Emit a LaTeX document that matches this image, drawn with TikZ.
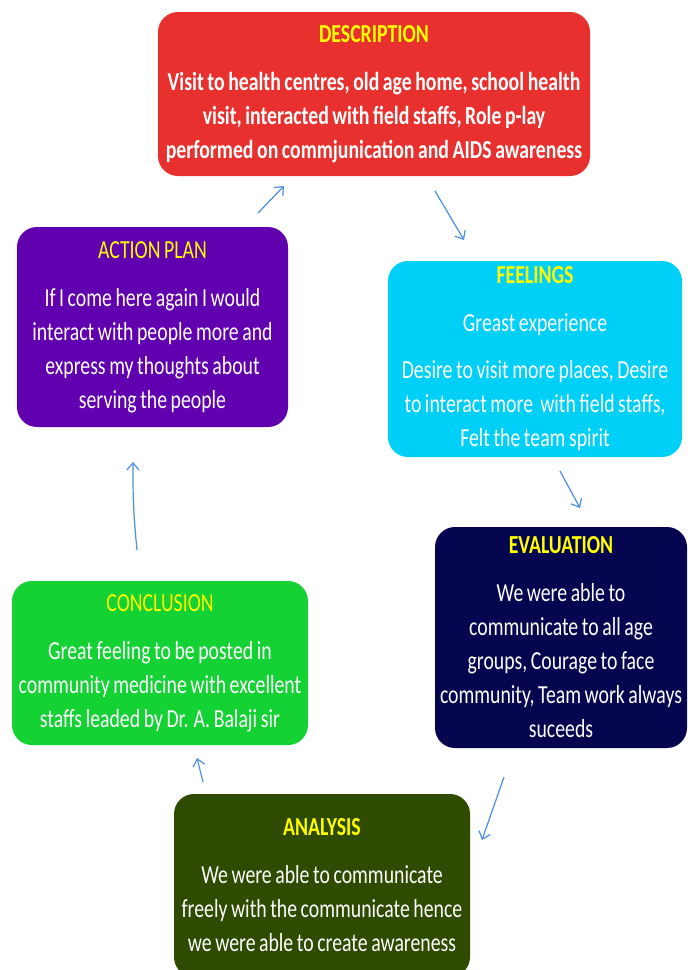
\documentclass[tikz,border=0pt]{standalone}
\usepackage{fontspec}
\usetikzlibrary{arrows.meta}
\newfontfamily\cf[FakeStretch=0.76,WordSpace=0.8]{Carlito}
\definecolor{cred}{HTML}{E8312E}
\definecolor{cpurple}{HTML}{6000AE}
\definecolor{ccyan}{HTML}{00CFF7}
\definecolor{cnavy}{HTML}{050550}
\definecolor{cgreen}{HTML}{14D134}
\definecolor{colive}{HTML}{2E4B00}
\definecolor{cyel}{HTML}{FFFF00}
\definecolor{carrow}{HTML}{4A8EDC}
\tikzset{
  box/.style={rounded corners=20pt, inner sep=0pt, align=center, text=white,
    font=\cf\fontsize{26}{34}\selectfont},
  arr/.style={draw=carrow, line width=1.2pt, -{Straight Barb[length=7pt,width=12pt]}},
}
\newcommand{\ttl}[1]{{\color{cyel}#1}}
\begin{document}
\begin{tikzpicture}[x=1pt,y=-1pt]
\useasboundingbox (0,0) rectangle (689,970);
\clip (0,0) rectangle (689,970);
\node[box, fill=cred, minimum width=432pt, minimum height=164pt, font=\cf\fontsize{26}{34}\selectfont\bfseries] (desc) at (374,94)
  {\ttl{DESCRIPTION}\\[14pt]Visit to health centres, old age home, school health\\visit, interacted with field staffs, Role p-lay\\performed on commjunication and AIDS awareness};
\node[box, fill=cpurple, minimum width=271pt, minimum height=200pt] (ap) at (152.5,327)
  {\ttl{ACTION PLAN}\\[14pt]If I come here again I would\\interact with people more and\\express my thoughts about\\serving the people};
\node[box, fill=ccyan, minimum width=294pt, minimum height=196pt] (feel) at (535,359)
  {\textbf{\ttl{FEELINGS}}\\[14pt]Greast experience\\[13pt]Desire to visit more places, Desire\\to interact more\ \ with field staffs,\\Felt the team spirit};
\node[box, fill=cnavy, minimum width=252pt, minimum height=221pt] (eval) at (561,637.5)
  {\textbf{\ttl{EVALUATION}}\\[14pt]We were able to\\communicate to all age\\groups, Courage to face\\community, Team work always\\suceeds};
\node[box, fill=cgreen, minimum width=296pt, minimum height=164pt] (conc) at (160,663)
  {\ttl{CONCLUSION}\\[14pt]Great feeling to be posted in\\community medicine with excellent\\staffs leaded by Dr. A. Balaji sir};
\node[box, fill=colive, minimum width=296pt, minimum height=183pt] (ana) at (322,885.5)
  {\textbf{\ttl{ANALYSIS}}\\[14pt]We were able to communicate\\freely with the communicate hence\\we were able to create awareness};
\coordinate (a1s) at (258,213); \coordinate (a1e) at (284,186);
\coordinate (a2s) at (435,191); \coordinate (a2e) at (464,240);
\coordinate (a3s) at (560,471); \coordinate (a3e) at (580,508);
\coordinate (a4s) at (504,777); \coordinate (a4e) at (482,840);
\coordinate (a5s) at (203,782); \coordinate (a5e) at (197,758);
\coordinate (a6s) at (137,550); \coordinate (a6e) at (133,462);
\draw[arr] (a1s) -- (a1e);
\draw[arr] (a2s) -- (a2e);
\draw[arr] (a3s) -- (a3e);
\draw[arr] (a4s) -- (a4e);
\draw[arr] (a5s) -- (a5e);
\draw[arr] (a6s) to[bend left=3] (a6e);
\end{tikzpicture}
\end{document}
